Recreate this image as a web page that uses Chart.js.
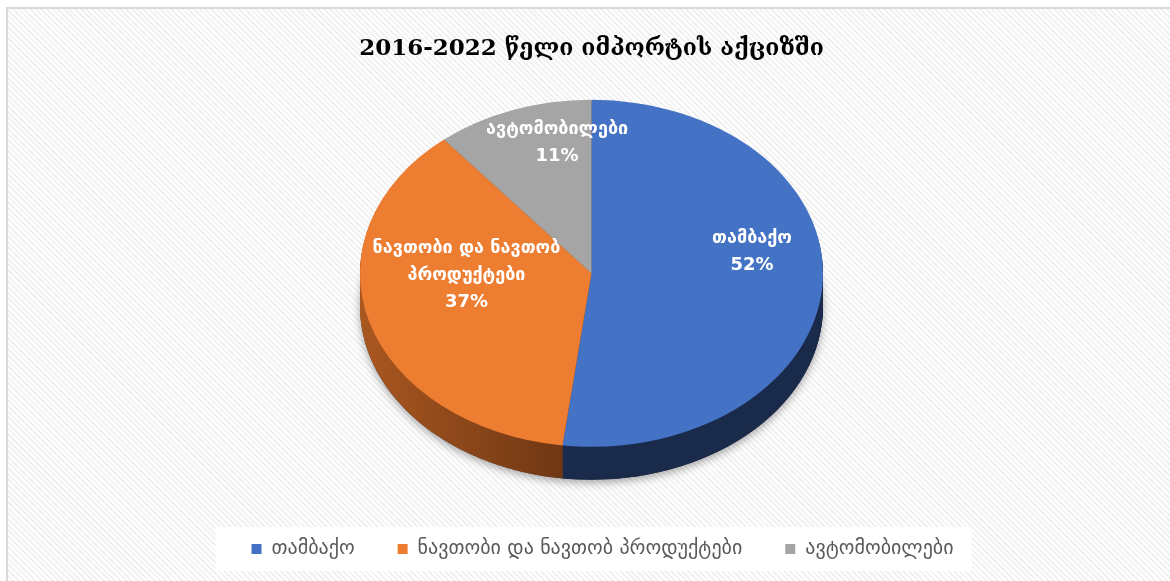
<!DOCTYPE html>
<html>
<head>
<meta charset="utf-8">
<script src="https://cdn.jsdelivr.net/npm/chart.js@4.4.0/dist/chart.umd.min.js"></script>
<style>
html, body { margin: 0; padding: 0; background: #fff; }
#wrap { position: relative; width: 1170px; height: 581px; overflow: hidden; }
#frame {
  position: absolute; left: 6px; top: 7px; width: 1200px; height: 620px;
  border: 2px solid #d9d9d9; box-sizing: border-box;
  background: repeating-linear-gradient(45deg, #ffffff 0px, #ffffff 2px, #f1f1f1 2px, #f1f1f1 4px);
}
canvas { position: absolute; left: 0; top: 0; }
</style>
</head>
<body>
<div id="wrap">
  <div id="frame"></div>
  <canvas id="myChart" width="1170" height="581"></canvas>
</div>
<script>
// data
const chartTitle = '2016-2022 წელი იმპორტის აქციზში';
const categories = ['თამბაქო', 'ნავთობი და ნავთობ პროდუქტები', 'ავტომობილები'];
const shares = [52, 37, 11];
const topColors = ['#4472c4', '#ed7d31', '#a5a5a5'];
const sideColors = [['#1e3158', '#1a2a4b'], ['#aa5720', '#673312'], ['#7a7a7a', '#5c5c5c']];

// splits a label into lines no wider than maxW
function wrapText(ctx, text, maxW) {
  let words = text.split(' ');
  let lines = [];
  let cur = '';
  words.forEach((w) => {
    let test = cur ? cur + ' ' + w : w;
    if (cur && ctx.measureText(test).width > maxW) {
      lines.push(cur);
      cur = w;
    } else {
      cur = test;
    }
  });
  if (cur) lines.push(cur);
  return lines;
}

// white box behind the legend, legend nudged right a bit
const legendBox = {
  id: 'legendBox',
  afterLayout(chart) {
    let lg = chart.legend;
    if (!lg) return;
    lg.left += 11;
    lg.right += 11;
  },
  beforeDraw(chart) {
    let lg = chart.legend;
    let boxes = lg && lg.legendHitBoxes;
    if (!boxes || !boxes.length) return;
    let left = Math.min(...boxes.map(b => b.left));
    let right = Math.max(...boxes.map(b => b.left + b.width));
    let top = Math.min(...boxes.map(b => b.top));
    let bottom = Math.max(...boxes.map(b => b.top + b.height));
    let ctx = chart.ctx;
    ctx.save();
    ctx.fillStyle = '#ffffff';
    ctx.fillRect(left - 36, top - 12, right - left + 54, bottom - top + 24);
    ctx.restore();
  }
};

// draws the pie tilted with a side wall, like the 3D pie in excel
const pie3d = {
  id: 'pie3d',
  beforeDatasetsDraw(chart, args, opts) {
    let meta = chart.getDatasetMeta(0);
    let ctx = chart.ctx;
    let first = meta.data[0];
    let R = first.outerRadius;
    let cx = first.x, cy = first.y;
    let sx = opts.rx / R, sy = opts.ry / R;
    let tx = cx + opts.dx, ty = cy + opts.dy;

    function arcPath(el, off) {
      ctx.save();
      ctx.translate(tx, ty + off);
      ctx.scale(sx, sy);
      ctx.translate(-cx, -cy);
      ctx.beginPath();
      ctx.moveTo(el.x, el.y);
      ctx.arc(el.x, el.y, el.outerRadius, el.startAngle, el.endAngle);
      ctx.closePath();
      ctx.restore();
    }

    // soft shadow under the pie
    ctx.save();
    ctx.shadowColor = 'rgba(0,0,0,0.35)';
    ctx.shadowBlur = 9;
    ctx.shadowOffsetY = 3;
    ctx.fillStyle = '#333';
    ctx.beginPath();
    ctx.ellipse(tx, ty + opts.depth, opts.rx, opts.ry, 0, 0, Math.PI * 2);
    ctx.fill();
    ctx.restore();

    // side wall, stacked slices
    for (let off = opts.depth; off >= 1; off--) {
      meta.data.forEach((el, i) => {
        let g = ctx.createLinearGradient(tx - opts.rx, 0, tx, 0);
        g.addColorStop(0, sideColors[i][0]);
        g.addColorStop(1, sideColors[i][1]);
        arcPath(el, off);
        ctx.fillStyle = g;
        ctx.fill();
      });
    }

    // top face with the library's own arcs
    ctx.save();
    ctx.translate(tx, ty);
    ctx.scale(sx, sy);
    ctx.translate(-cx, -cy);
    meta.data.forEach((el) => el.draw(ctx));
    ctx.restore();

    chart.$pie3d = { tx, ty, sx, sy, R };
    return false;
  },
  afterDraw(chart, args, opts) {
    let geo = chart.$pie3d;
    if (!geo) return;
    let meta = chart.getDatasetMeta(0);
    let ctx = chart.ctx;
    let total = shares.reduce((a, b) => a + b, 0);
    ctx.save();
    ctx.fillStyle = '#ffffff';
    ctx.font = opts.labelFont;
    ctx.textAlign = 'center';
    ctx.textBaseline = 'middle';
    meta.data.forEach((el, i) => {
      let mid = (el.startAngle + el.endAngle) / 2;
      let r = geo.R * opts.labelRatio;
      let x = geo.tx + Math.cos(mid) * r * geo.sx + opts.labelDx;
      let y = geo.ty + Math.sin(mid) * r * geo.sy + opts.labelDy;
      let lines = wrapText(ctx, categories[i], opts.labelWidth);
      lines.push(Math.round(shares[i] / total * 100) + '%');
      let lh = opts.lineHeight;
      let y0 = y - (lines.length - 1) * lh / 2;
      lines.forEach((t, k) => ctx.fillText(t, x, y0 + k * lh));
    });
    ctx.restore();
  }
};

let ctx = document.getElementById('myChart');

let myChart = new Chart(ctx, {
  type: 'pie',
  data: {
    labels: categories,
    datasets: [{
      data: shares,
      backgroundColor: topColors,
      borderWidth: 0
    }]
  },
  options: {
    responsive: false,
    animation: false,
    layout: { padding: { left: 13, right: 0, top: 0, bottom: 12 } },
    plugins: {
      title: {
        display: true,
        text: chartTitle,
        color: '#000000',
        font: { family: 'DejaVu Serif', size: 23, weight: 'bold' },
        padding: { top: 35, bottom: 12 }
      },
      legend: {
        position: 'bottom',
        labels: {
          boxWidth: 10,
          boxHeight: 10,
          color: '#595959',
          font: { family: 'DejaVu Sans', size: 20 },
          padding: 43
        }
      },
      tooltip: { enabled: false },
      pie3d: {
        rx: 231.5,
        ry: 173.5,
        dx: 0,
        dy: -12,
        depth: 33,
        labelRatio: 0.63,
        labelDx: 15,
        labelDy: -28,
        labelWidth: 200,
        lineHeight: 27,
        labelFont: 'bold 18px "DejaVu Sans"'
      }
    }
  },
  plugins: [legendBox, pie3d]
});
</script>
</body>
</html>
